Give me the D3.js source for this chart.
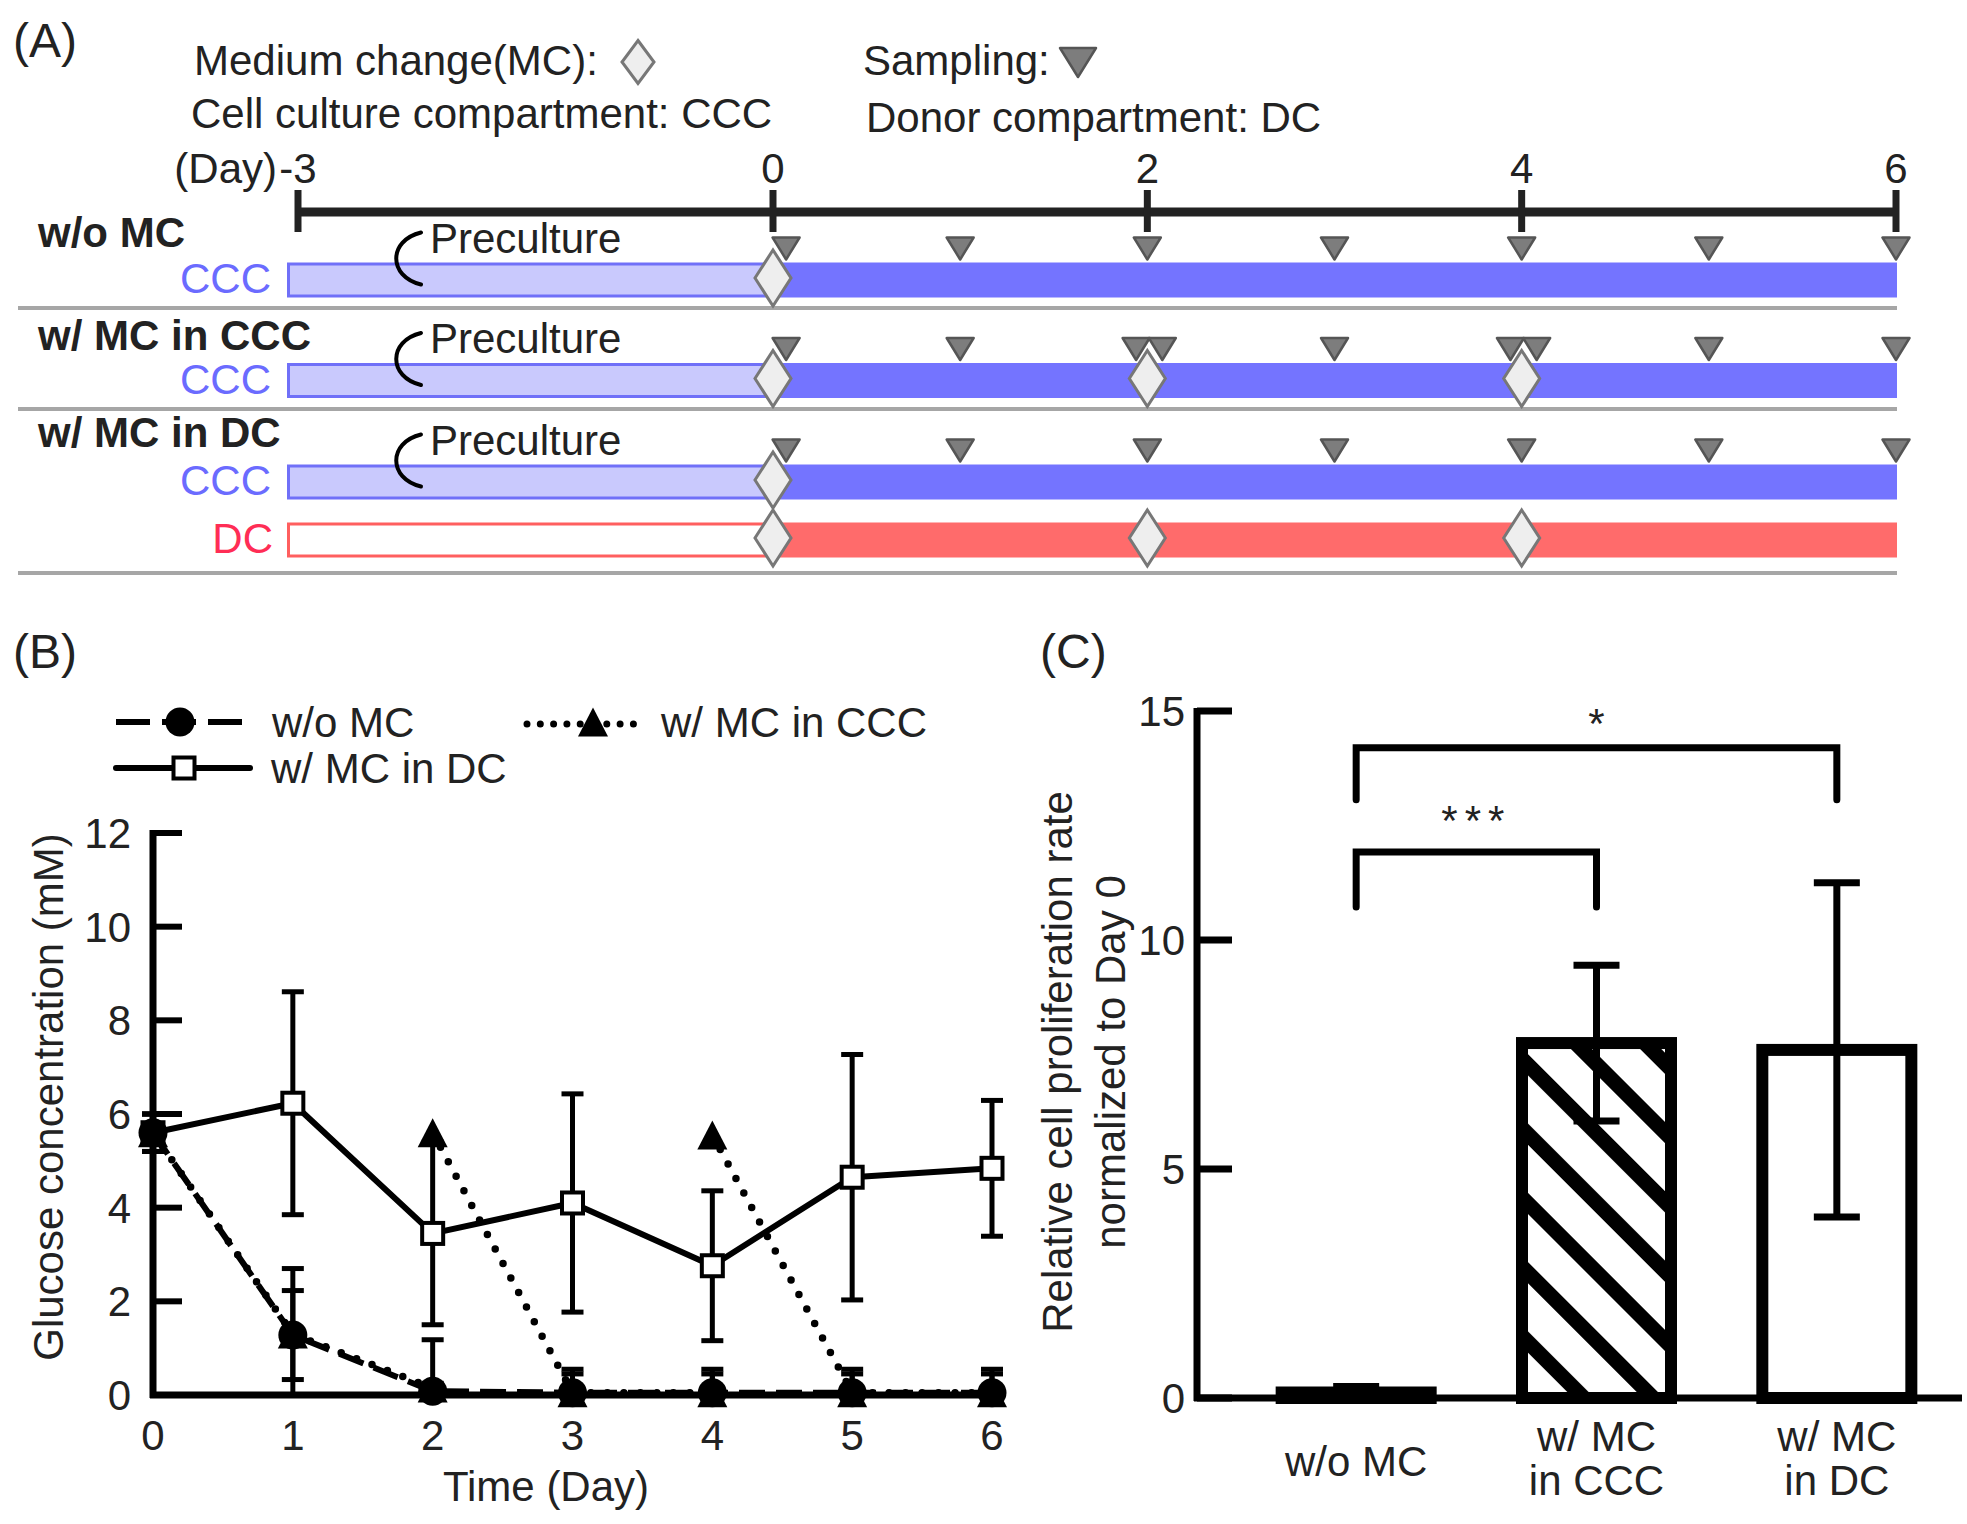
<!DOCTYPE html>
<html>
<head>
<meta charset="utf-8">
<script src="https://cdn.jsdelivr.net/npm/d3@7"></script>
<style>
  body { margin: 0; background: #fff; }
  svg text { font-family: "Liberation Sans", Arial, Helvetica, sans-serif; fill: #222; }
</style>
</head>
<body>
<script>
// ---------- data ----------
// (A) culture schedule
const scheduleRows = ['w/o MC', 'w/ MC in CCC', 'w/ MC in DC']
const timelineTicks = [-3, 0, 2, 4, 6]
const precultureStart = -3.06
const cultureStart = 0
const cultureEnd = 6
const trackRow = [0, 1, 2, 2]
const trackComp = ['CCC', 'CCC', 'CCC', 'DC']
const trackMC = [[0], [0, 2, 4], [0], [0, 2, 4]]
const samplingDays = [
  [0.07, 1, 2, 3, 4, 5, 6],
  [0.07, 1, 1.94, 2.08, 3, 3.94, 4.08, 5, 6],
  [0.07, 1, 2, 3, 4, 5, 6]
]

// (B) glucose concentration (mM)
const days = [0, 1, 2, 3, 4, 5, 6]
const glucoseWoMC = [5.6, 1.28, 0.08, 0.05, 0.05, 0.05, 0.05]
const glucoseWoMCErr = [0.4, 0.95, 1.1, 0.5, 0.5, 0.5, 0.5]
const cccDays = [0, 1, 2, 2, 3, 4, 4, 5, 6]
const cccSegment = [0, 0, 0, 1, 1, 1, 2, 2, 2]
const glucoseCCC = [5.6, 1.3, 0.15, 5.6, 0.05, 0.05, 5.55, 0.05, 0.05]
const glucoseCCCErr = [0.4, 1.4, 0.1, 0, 0.4, 0.4, 0, 0.4, 0.4]
const glucoseDC = [5.6, 6.23, 3.45, 4.1, 2.76, 4.65, 4.84]
const glucoseDCErr = [0.4, 2.38, 1.95, 2.33, 1.6, 2.62, 1.45]
const glucoseTicks = [0, 2, 4, 6, 8, 10, 12]

// (C) relative proliferation
const groups = ['w/o MC', 'w/ MC in CCC', 'w/ MC in DC']
const groupLabels = [['w/o MC'], ['w/ MC', 'in CCC'], ['w/ MC', 'in DC']]
const proliferation = [0.12, 7.75, 7.6]
const proliferationErr = [0.13, 1.7, 3.65]
const rateTicks = [0, 5, 10, 15]
const compFrom = [0, 0]
const compTo = [2, 1]
const compLevel = [14.2, 11.92]
const compLeg = [1.14, 1.2]
const compLabel = ['*', '***']

// ---------- page ----------
const FS = 42
const svg = d3.select('body').append('svg')
  .attr('width', 1967)
  .attr('height', 1524)

svg.append('defs').append('pattern')
  .attr('id', 'hatch')
  .attr('patternUnits', 'userSpaceOnUse')
  .attr('width', 49).attr('height', 49)
  .attr('patternTransform', 'rotate(45) translate(0,8)')
  .call(p => {
    p.append('rect').attr('width', 49).attr('height', 49).attr('fill', '#fff')
    p.append('rect').attr('width', 49).attr('height', 15).attr('fill', '#000')
  })

function diamond(g, cx, cy, w, h) {
  g.append('path')
    .attr('d', `M${cx},${cy - h / 2}L${cx + w / 2},${cy}L${cx},${cy + h / 2}L${cx - w / 2},${cy}Z`)
    .attr('fill', '#eeeeee')
    .attr('stroke', '#777')
    .attr('stroke-width', 3)
}
function sampleMark(g, cx, top, w, h) {
  g.append('path')
    .attr('d', `M${cx - w / 2},${top}L${cx + w / 2},${top}L${cx},${top + h}Z`)
    .attr('fill', '#7d7d7d')
    .attr('stroke', '#555')
    .attr('stroke-width', 2.5)
    .attr('stroke-linejoin', 'round')
}

// ================= (A) =================
const a = svg.append('g')
const xA = d3.scaleLinear().domain([-3, 0, 6]).range([298, 773, 1896])

a.append('text').attr('x', 13).attr('y', 57).attr('font-size', 48).text('(A)')
a.append('text').attr('x', 194).attr('y', 75).attr('font-size', FS).text('Medium change(MC):')
diamond(a, 638, 62, 32, 43)
a.append('text').attr('x', 191).attr('y', 128).attr('font-size', FS).text('Cell culture compartment: CCC')
a.append('text').attr('x', 863).attr('y', 75).attr('font-size', FS).text('Sampling:')
sampleMark(a, 1078, 48, 36, 29)
a.append('text').attr('x', 866).attr('y', 132).attr('font-size', FS).text('Donor compartment: DC')

// timeline axis
const axisY = 212
a.append('line')
  .attr('x1', xA(-3)).attr('x2', xA(6))
  .attr('y1', axisY).attr('y2', axisY)
  .attr('stroke', '#222').attr('stroke-width', 9)
a.selectAll('.tl-tick').data(timelineTicks).join('line')
  .attr('x1', d => xA(d)).attr('x2', d => xA(d))
  .attr('y1', axisY - 22).attr('y2', axisY + 20)
  .attr('stroke', '#222').attr('stroke-width', 7)
a.selectAll('.tl-lab').data(timelineTicks).join('text')
  .attr('x', d => xA(d)).attr('y', 183)
  .attr('font-size', FS).attr('text-anchor', 'middle')
  .text(d => d)
a.append('text').attr('x', 277).attr('y', 183).attr('font-size', FS)
  .attr('text-anchor', 'end').text('(Day)')

// tracks
const trackY = [280, 380.5, 482, 540]
const barH = 35
const rowLabelY = [247, 350, 447]
const separatorY = [308, 409, 573]
const colors = {
  CCC: { solid: '#7474ff', light: '#c9c9fd', edge: '#7070f8', text: '#6b6bff' },
  DC: { solid: '#ff6b6b', light: '#ffffff', edge: '#ff5f5f', text: '#ff2d55' }
}

scheduleRows.forEach((r, i) => {
  a.append('text')
    .attr('x', 38).attr('y', rowLabelY[i])
    .attr('font-size', FS).attr('font-weight', 'bold')
    .text(r)
  a.append('line')
    .attr('x1', 18).attr('x2', xA(cultureEnd) + 1)
    .attr('y1', separatorY[i]).attr('y2', separatorY[i])
    .attr('stroke', '#a6a6a6').attr('stroke-width', 4)
})

trackComp.forEach((comp, i) => {
  const c = colors[comp]
  const top = trackY[i] - barH / 2
  a.append('rect')
    .attr('x', xA(precultureStart)).attr('y', top + 1.5)
    .attr('width', xA(cultureStart) - xA(precultureStart)).attr('height', barH - 3)
    .attr('fill', c.light).attr('stroke', c.edge).attr('stroke-width', 3)
  a.append('rect')
    .attr('x', xA(cultureStart)).attr('y', top)
    .attr('width', xA(cultureEnd) - xA(cultureStart) + 1).attr('height', barH)
    .attr('fill', c.solid)
  a.append('text')
    .attr('x', comp === 'CCC' ? 271 : 273).attr('y', trackY[i] + 13)
    .attr('font-size', FS).attr('text-anchor', 'end')
    .style('fill', c.text)
    .text(comp)
})

// preculture notes and sampling marks on the CCC track of each row
scheduleRows.forEach((r, i) => {
  const t = trackComp.findIndex((c, k) => c === 'CCC' && trackRow[k] === i)
  const top = trackY[t] - barH / 2
  a.append('path')
    .attr('d', `M421,${top - 30}C388,${top - 22} 388,${top + 14} 421,${top + 22}`)
    .attr('fill', 'none').attr('stroke', '#000').attr('stroke-width', 4)
    .attr('stroke-linecap', 'round')
  a.append('text')
    .attr('x', 430).attr('y', top - 10)
    .attr('font-size', FS).text('Preculture')
  samplingDays[i].forEach(d => sampleMark(a, xA(d), top - 25, 27, 22))
})

// medium changes
trackMC.forEach((list, i) => {
  list.forEach(d => diamond(a, xA(d), trackY[i] - 2, 36, 56))
})

// ================= (B) =================
const b = svg.append('g')
const xB = d3.scaleLinear().domain([0, 6]).range([153, 992])
const yB = d3.scaleLinear().domain([0, 12]).range([1395, 833])

b.append('text').attr('x', 13).attr('y', 668).attr('font-size', 48).text('(B)')

// error bars (lower half stops at zero, as in the plot)
function errBars(g, xs, ys, es, xScale, yScale, cap, sw) {
  xs.forEach((x, i) => {
    if (!es[i]) return
    const px = xScale(x)
    const lo = ys[i] - es[i]
    const y1 = yScale(Math.max(0, lo)), y2 = yScale(ys[i] + es[i])
    g.append('line').attr('x1', px).attr('x2', px).attr('y1', y1).attr('y2', y2)
      .attr('stroke', '#000').attr('stroke-width', sw)
    const caps = lo >= 0 ? [y1, y2] : [y2]
    caps.forEach(yy => g.append('line')
      .attr('x1', px - cap / 2).attr('x2', px + cap / 2)
      .attr('y1', yy).attr('y2', yy)
      .attr('stroke', '#000').attr('stroke-width', sw))
  })
}
errBars(b, days, glucoseDC, glucoseDCErr, xB, yB, 22, 5)
errBars(b, cccDays, glucoseCCC, glucoseCCCErr, xB, yB, 22, 5)
errBars(b, days, glucoseWoMC, glucoseWoMCErr, xB, yB, 22, 5)

// axes
b.append('line')
  .attr('x1', xB(0)).attr('x2', xB(0))
  .attr('y1', yB(12) - 3).attr('y2', yB(0) + 3)
  .attr('stroke', '#000').attr('stroke-width', 7)
b.append('line')
  .attr('x1', xB(0) - 3).attr('x2', xB(6.08))
  .attr('y1', yB(0)).attr('y2', yB(0))
  .attr('stroke', '#000').attr('stroke-width', 7)
b.selectAll('.yb-tick').data(glucoseTicks).join('line')
  .attr('x1', xB(0)).attr('x2', xB(0) + 29)
  .attr('y1', d => yB(d)).attr('y2', d => yB(d))
  .attr('stroke', '#000').attr('stroke-width', 6)
b.selectAll('.yb-lab').data(glucoseTicks).join('text')
  .attr('x', 131).attr('y', d => yB(d) + 15)
  .attr('font-size', FS).attr('text-anchor', 'end')
  .text(d => d)
b.selectAll('.xb-lab').data(days).join('text')
  .attr('x', d => xB(d)).attr('y', 1450)
  .attr('font-size', FS).attr('text-anchor', 'middle')
  .text(d => d)
b.append('text').attr('x', 546).attr('y', 1501)
  .attr('font-size', FS).attr('text-anchor', 'middle').text('Time (Day)')
b.append('text')
  .attr('transform', 'translate(63,1097) rotate(-90)')
  .attr('font-size', FS).attr('text-anchor', 'middle')
  .text('Glucose concentration (mM)')

// lines
const lineB = d3.line().x(d => xB(d[0])).y(d => yB(d[1]))
b.append('path')
  .attr('d', lineB(days.map((d, i) => [d, glucoseDC[i]])))
  .attr('fill', 'none').attr('stroke', '#000').attr('stroke-width', 6)
  .attr('stroke-linejoin', 'round')
d3.groups(cccDays.map((d, i) => [d, glucoseCCC[i], cccSegment[i]]), p => p[2])
  .forEach(([, pts]) => {
    b.append('path')
      .attr('d', lineB(pts))
      .attr('fill', 'none').attr('stroke', '#000').attr('stroke-width', 7.5)
      .attr('stroke-linecap', 'round').attr('stroke-dasharray', '0 16.5')
  })
b.append('path')
  .attr('d', lineB(days.map((d, i) => [d, glucoseWoMC[i]])))
  .attr('fill', 'none').attr('stroke', '#000').attr('stroke-width', 6)
  .attr('stroke-dasharray', '26 11')

// markers
const sq = 21, triW = 30, triH = 29, cr = 14.5
function square(g, cx, cy) {
  g.append('rect').attr('x', cx - sq / 2).attr('y', cy - sq / 2)
    .attr('width', sq).attr('height', sq)
    .attr('fill', '#fff').attr('stroke', '#000').attr('stroke-width', 4)
}
function triangle(g, cx, cy) {
  g.append('path')
    .attr('d', `M${cx},${cy - triH / 2}L${cx + triW / 2},${cy + triH / 2}L${cx - triW / 2},${cy + triH / 2}Z`)
    .attr('fill', '#000')
}
function circle(g, cx, cy) {
  g.append('circle').attr('cx', cx).attr('cy', cy).attr('r', cr).attr('fill', '#000')
}
days.forEach((d, i) => square(b, xB(d), yB(glucoseDC[i])))
cccDays.forEach((d, i) => triangle(b, xB(d), yB(glucoseCCC[i])))
days.forEach((d, i) => circle(b, xB(d), yB(glucoseWoMC[i])))

// legend
const lg = b.append('g')
lg.append('line').attr('x1', 116).attr('x2', 250).attr('y1', 722).attr('y2', 722)
  .attr('stroke', '#000').attr('stroke-width', 6).attr('stroke-dasharray', '34 12')
circle(lg, 180, 722)
lg.append('text').attr('x', 272).attr('y', 737).attr('font-size', FS).text('w/o MC')
lg.append('line').attr('x1', 527).attr('x2', 643).attr('y1', 724).attr('y2', 724)
  .attr('stroke', '#000').attr('stroke-width', 7).attr('stroke-linecap', 'round')
  .attr('stroke-dasharray', '0 13.3')
triangle(lg, 593, 722)
lg.append('text').attr('x', 661).attr('y', 737).attr('font-size', FS).text('w/ MC in CCC')
lg.append('line').attr('x1', 116).attr('x2', 250).attr('y1', 768).attr('y2', 768)
  .attr('stroke', '#000').attr('stroke-width', 6).attr('stroke-linecap', 'round')
square(lg, 184, 768)
lg.append('text').attr('x', 271).attr('y', 783).attr('font-size', FS).text('w/ MC in DC')

// ================= (C) =================
const c = svg.append('g')
const yC = d3.scaleLinear().domain([0, 15]).range([1398, 711])
const xC = d3.scaleBand().domain(groups).range([1236, 1957])
  .paddingInner(0.38).paddingOuter(0.19)
const mid = g => xC(g) + xC.bandwidth() / 2

c.append('text').attr('x', 1040).attr('y', 668).attr('font-size', 48).text('(C)')

c.append('line')
  .attr('x1', 1197).attr('x2', 1197)
  .attr('y1', yC(15) - 3).attr('y2', yC(0) + 3)
  .attr('stroke', '#000').attr('stroke-width', 7)
c.selectAll('.yc-tick').data(rateTicks).join('line')
  .attr('x1', 1197).attr('x2', 1232)
  .attr('y1', d => yC(d)).attr('y2', d => yC(d))
  .attr('stroke', '#000').attr('stroke-width', 7)
c.selectAll('.yc-lab').data(rateTicks).join('text')
  .attr('x', 1185).attr('y', d => yC(d) + 15)
  .attr('font-size', FS).attr('text-anchor', 'end')
  .text(d => d)

// bars
groups.forEach((g, i) => {
  c.append('rect')
    .attr('x', xC(g)).attr('y', yC(proliferation[i]))
    .attr('width', xC.bandwidth()).attr('height', yC(0) - yC(proliferation[i]))
    .attr('fill', i === 1 ? 'url(#hatch)' : '#fff')
    .attr('stroke', '#000').attr('stroke-width', 12)
})
c.append('line')
  .attr('x1', 1194).attr('x2', 1962)
  .attr('y1', yC(0)).attr('y2', yC(0))
  .attr('stroke', '#000').attr('stroke-width', 7)
errBars(c, groups.map((g, i) => i), proliferation, proliferationErr,
  i => mid(groups[i]), yC, 46, 7)

// significance brackets
const starOffset = [10, 17]
compLabel.forEach((lab, k) => {
  const x1 = mid(groups[compFrom[k]]), x2 = mid(groups[compTo[k]])
  const yTop = yC(compLevel[k]), yLeg = yC(compLevel[k] - compLeg[k])
  c.append('path')
    .attr('d', `M${x1},${yLeg}V${yTop}H${x2}V${yLeg}`)
    .attr('fill', 'none').attr('stroke', '#000').attr('stroke-width', 7)
    .attr('stroke-linecap', 'round')
  c.append('text')
    .attr('x', (x1 + x2) / 2).attr('y', yTop - starOffset[k])
    .attr('font-size', FS).attr('text-anchor', 'middle')
    .attr('letter-spacing', lab.length > 1 ? 7 : 0)
    .text(lab)
})

// category labels
groupLabels.forEach((lines, i) => {
  const base = lines.length === 1 ? [1476] : [1451, 1495]
  lines.forEach((l, j) => c.append('text')
    .attr('x', mid(groups[i])).attr('y', base[j])
    .attr('font-size', FS).attr('text-anchor', 'middle')
    .text(l))
})

c.append('text')
  .attr('transform', 'translate(1072,1062) rotate(-90)')
  .attr('font-size', FS).attr('text-anchor', 'middle')
  .text('Relative cell proliferation rate')
c.append('text')
  .attr('transform', 'translate(1125,1062) rotate(-90)')
  .attr('font-size', FS).attr('text-anchor', 'middle')
  .text('normalized to Day 0')
</script>
</body>
</html>
